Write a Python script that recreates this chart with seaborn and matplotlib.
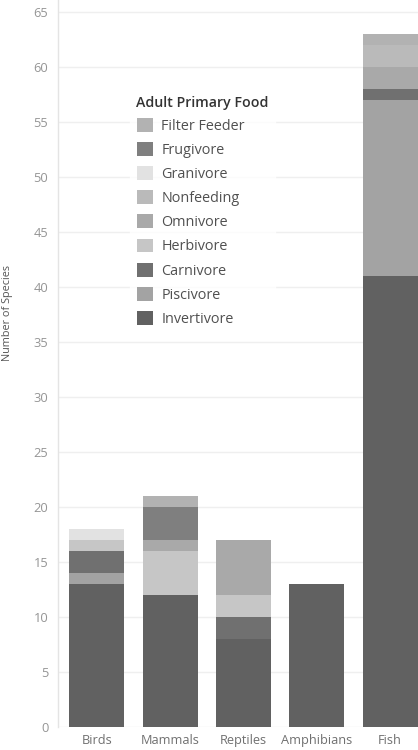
import matplotlib
matplotlib.use("Agg")
import matplotlib.pyplot as plt
from matplotlib.patches import Patch
import numpy as np
import pandas as pd
import seaborn as sns

# Species counts per animal class, split by adult primary food
classes = ["Birds", "Mammals", "Reptiles", "Amphibians", "Fish"]

# stacking order, bottom to top
foods = ["Invertivore", "Piscivore", "Carnivore", "Herbivore", "Omnivore",
         "Nonfeeding", "Granivore", "Frugivore", "Filter Feeder"]

invertivore = [13, 12, 8, 13, 41]
piscivore = [1, 0, 0, 0, 16]
carnivore = [2, 0, 2, 0, 1]
herbivore = [1, 4, 2, 0, 0]
omnivore = [0, 1, 5, 0, 2]
nonfeeding = [0, 0, 0, 0, 2]
granivore = [1, 0, 0, 0, 0]
frugivore = [0, 3, 0, 0, 0]
filter_feeder = [0, 1, 0, 0, 1]

counts = [invertivore, piscivore, carnivore, herbivore, omnivore,
          nonfeeding, granivore, frugivore, filter_feeder]

colors = {
    "Invertivore": "#616161",
    "Piscivore": "#a3a3a3",
    "Carnivore": "#707070",
    "Herbivore": "#c6c6c6",
    "Omnivore": "#a9a9a9",
    "Nonfeeding": "#bababa",
    "Granivore": "#e2e2e2",
    "Frugivore": "#7f7f7f",
    "Filter Feeder": "#b2b2b2",
}

legend_order = ["Filter Feeder", "Frugivore", "Granivore", "Nonfeeding",
                "Omnivore", "Herbivore", "Carnivore", "Piscivore", "Invertivore"]

yticks = list(range(0, 70, 5))

sns.set_theme(style="white")
plt.rcParams["font.family"] = ["Open Sans", "DejaVu Sans"]

df = pd.DataFrame(np.array(counts).T, columns=foods)
df.insert(0, "Class", classes)
cum = df[foods].cumsum(axis=1)

fig = plt.figure(figsize=(4.18, 7.5), dpi=100)
ax = fig.add_axes([58 / 418, 23 / 750, 360 / 418, 727 / 750])

# light horizontal grid behind the bars
for t in yticks:
    ax.axhline(t, color="#efefef", lw=1, zorder=0)

# draw cumulative totals from the top layer down so each layer shows its share
for food in reversed(foods):
    tmp = pd.DataFrame({"Class": classes, "Total": cum[food].values})
    sns.barplot(data=tmp, x="Class", y="Total", order=classes, color=colors[food],
                saturation=1, width=0.75, linewidth=0, errorbar=None, ax=ax, zorder=2)

ax.set_xlim(-0.53, 4.38)
ax.set_ylim(0, 727 / 11)
ax.set_yticks(yticks)
ax.set_yticklabels([str(t) for t in yticks], color="#959595", fontsize=9.3)
ax.tick_params(axis="y", length=0, pad=7)
ax.tick_params(axis="x", length=0, pad=5, labelsize=9.2, labelcolor="#707070")
ax.set_xlabel("")
ax.set_ylabel("Number of Species", fontsize=7.8, color="#555555")
ax.yaxis.set_label_coords(-0.125, 0.57)

for side in ["top", "right", "bottom"]:
    ax.spines[side].set_visible(False)
ax.spines["left"].set_color("#e4e4e4")
ax.spines["left"].set_linewidth(1)

handles = [Patch(facecolor=colors[f], edgecolor="none", label=f) for f in legend_order]
leg = ax.legend(handles=handles, title="Adult Primary Food",
                loc="upper left", bbox_to_anchor=(130 / 418, 1 - 89 / 750),
                bbox_transform=fig.transFigure, frameon=True, fancybox=False,
                fontsize=10.4, title_fontsize=10.2, labelspacing=0.575,
                handlelength=1.16, handleheight=1.1, handletextpad=0.55,
                borderpad=0.45, borderaxespad=0, alignment="left")
leg.get_frame().set_facecolor("white")
leg.get_frame().set_edgecolor("white")
leg.get_title().set_fontweight("semibold")
leg.get_title().set_color("#333333")
for txt in leg.get_texts():
    txt.set_color("#505050")
leg.set_zorder(5)

fig.savefig("out.png", dpi=100)
